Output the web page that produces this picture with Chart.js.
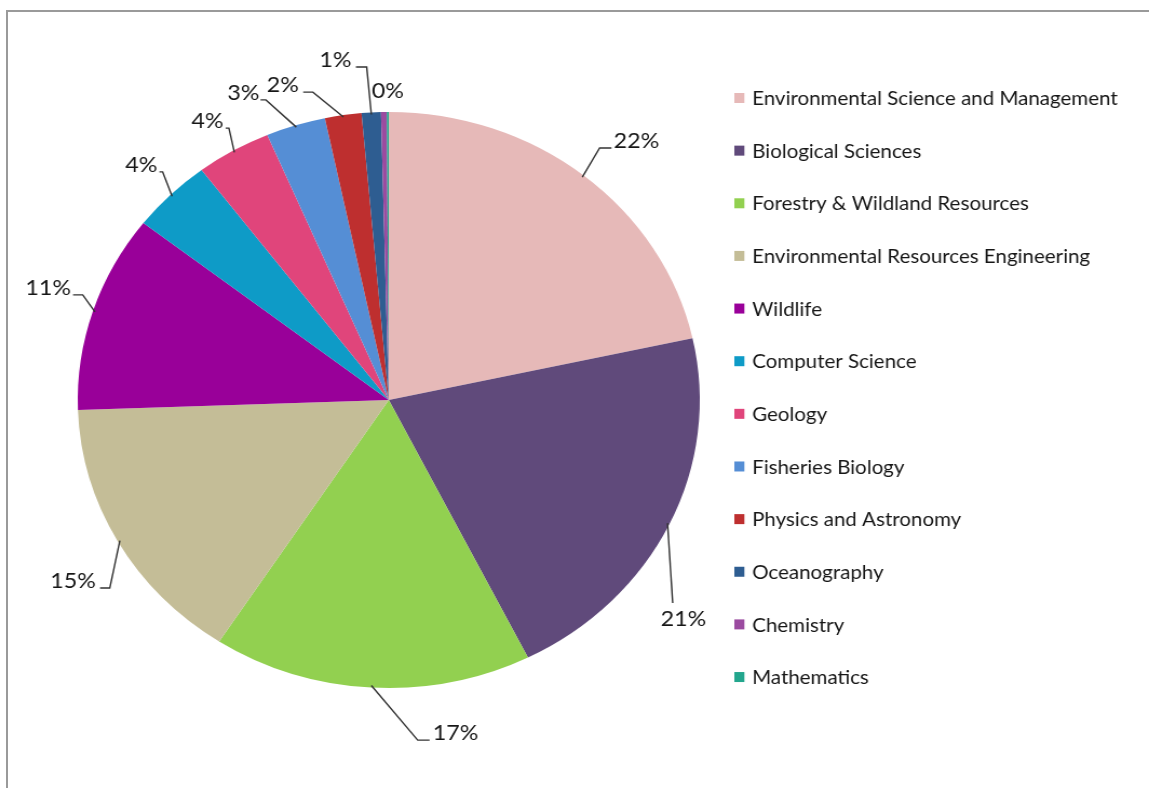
<!DOCTYPE html>
<html>
<head>
<meta charset="utf-8">
<script src="https://cdn.jsdelivr.net/npm/chart.js@4/dist/chart.umd.min.js"></script>
<style>
  html, body { margin: 0; padding: 0; background: #fff; overflow: hidden; width: 1149px; height: 788px; }
  #frame {
    position: absolute; left: 6px; top: 10px; width: 2000px; height: 1000px;
    border-left: 2px solid #9a9a9a; border-top: 2px solid #9a9a9a;
  }
  /* the whole drawing is widened a little, pie, labels and legend alike */
  #stage {
    position: absolute; left: 0; top: 0; width: 1064px; height: 788px;
    transform: scaleX(1.0799); transform-origin: 0 0;
  }
</style>
</head>
<body>
<div id="frame"></div>
<div id="stage"><canvas id="pie"></canvas></div>
<script>
// Enrolment share by department (percent of total)
const categories = [
  'Environmental Science and Management',
  'Biological Sciences',
  'Forestry & Wildland Resources',
  'Environmental Resources Engineering',
  'Wildlife',
  'Computer Science',
  'Geology',
  'Fisheries Biology',
  'Physics and Astronomy',
  'Oceanography',
  'Chemistry',
  'Mathematics'
];
const shares = [21.6, 21.1, 16.6, 15.3, 11.1, 4.2, 3.9, 3.1, 1.9, 1.0, 0.3, 0.1];

const sliceColors = [
  '#e6b9b8', '#604a7b', '#92d050', '#c4bd97', '#990099', '#0e9bc7',
  '#e0457b', '#558ed5', '#be2f2f', '#2e5d91', '#9b4ba0', '#23a68d'
];

// Where each percentage label sits: elbow point relative to the pie
// (fractions of the radius), stub length, text offset and alignment.
const labelSpots = [
  { nx: 0.678, ny: -0.875, stub: 11, tx: 13, ty: 0, align: 'left' },
  { nx: 0.913, ny: 0.705, stub: 0, tx: 10, ty: 23, align: 'center' },
  { nx: 0.093, ny: 1.181, stub: 11, tx: 14, ty: 0, align: 'left' },
  { nx: -0.897, ny: 0.653, stub: -9, tx: -13, ty: 0, align: 'right' },
  { nx: -0.984, ny: -0.365, stub: -9, tx: -11, ty: 0, align: 'right' },
  { nx: -0.727, ny: -0.792, stub: -3, tx: -5, ty: 0, align: 'right' },
  { nx: -0.514, ny: -0.944, stub: -3, tx: -5, ty: 0, align: 'right' },
  { nx: -0.395, ny: -1.042, stub: -5, tx: -6, ty: 0, align: 'right' },
  { nx: -0.244, ny: -1.069, stub: -9, tx: -13, ty: 0, align: 'right' },
  { nx: -0.071, ny: -1.156, stub: -10, tx: -14, ty: 0, align: 'right' },
  { nx: -0.003, ny: -1.049, stub: 0, tx: 0, ty: 0, align: 'center', noLeader: true },
  null
];

const TEXT_COLOR = '#161616';
const LABEL_FONT = '21.5px Lato, "Open Sans", sans-serif';
const LEGEND_FONT = '19px Lato, "Open Sans", sans-serif';

const percentText = (v, total) => Math.round(v / total * 100) + '%';

// Percentage labels with bent leader lines
const leaderLabels = {
  id: 'leaderLabels',
  afterDatasetsDraw(chart) {
    const ctx = chart.ctx;
    const meta = chart.getDatasetMeta(0);
    const values = chart.data.datasets[0].data;
    const total = values.reduce((a, b) => a + b, 0);
    ctx.save();
    ctx.font = LABEL_FONT;
    ctx.fillStyle = TEXT_COLOR;
    ctx.strokeStyle = '#333333';
    ctx.lineWidth = 1.4;
    ctx.textBaseline = 'alphabetic';
    meta.data.forEach((arc, i) => {
      const spot = labelSpots[i];
      if (!spot) return;
      const p = arc.getProps(['x', 'y', 'startAngle', 'endAngle', 'outerRadius'], true);
      const mid = (p.startAngle + p.endAngle) / 2;
      const r = p.outerRadius;
      const ex = p.x + spot.nx * r;
      const ey = p.y + spot.ny * r;
      if (!spot.noLeader) {
        const sx = p.x + Math.cos(mid) * (r - 2);
        const sy = p.y + Math.sin(mid) * (r - 2);
        ctx.beginPath();
        ctx.moveTo(sx, sy);
        ctx.lineTo(ex, ey);
        if (spot.stub) ctx.lineTo(ex + spot.stub, ey);
        ctx.stroke();
      }
      ctx.textAlign = spot.align;
      ctx.fillText(percentText(values[i], total), ex + spot.tx, ey + spot.ty);
    });
    ctx.restore();
  }
};

// Legend column on the right
const sideLegend = {
  id: 'sideLegend',
  afterDraw(chart) {
    const ctx = chart.ctx;
    const area = chart.chartArea;
    const boxX = area.right + 32;
    const textX = boxX + 16.5;
    const firstY = 98;
    const step = 52.64;
    ctx.save();
    ctx.font = LEGEND_FONT;
    ctx.textAlign = 'left';
    ctx.textBaseline = 'middle';
    chart.data.labels.forEach((name, i) => {
      const cy = firstY + i * step;
      ctx.fillStyle = chart.data.datasets[0].backgroundColor[i];
      ctx.fillRect(boxX, cy - 5, 9.3, 10);
      ctx.fillStyle = TEXT_COLOR;
      ctx.fillText(name, textX, cy + 1);
    });
    ctx.restore();
  }
};

new Chart(document.getElementById('pie'), {
  type: 'pie',
  data: {
    labels: categories,
    datasets: [{
      data: shares,
      backgroundColor: sliceColors,
      borderWidth: 0
    }]
  },
  options: {
    responsive: true,
    maintainAspectRatio: false,
    animation: false,
    layout: { padding: { top: 112, bottom: 100, left: 72, right: 416 } },
    plugins: {
      legend: { display: false },
      tooltip: { enabled: false }
    }
  },
  plugins: [leaderLabels, sideLegend]
});
</script>
</body>
</html>
